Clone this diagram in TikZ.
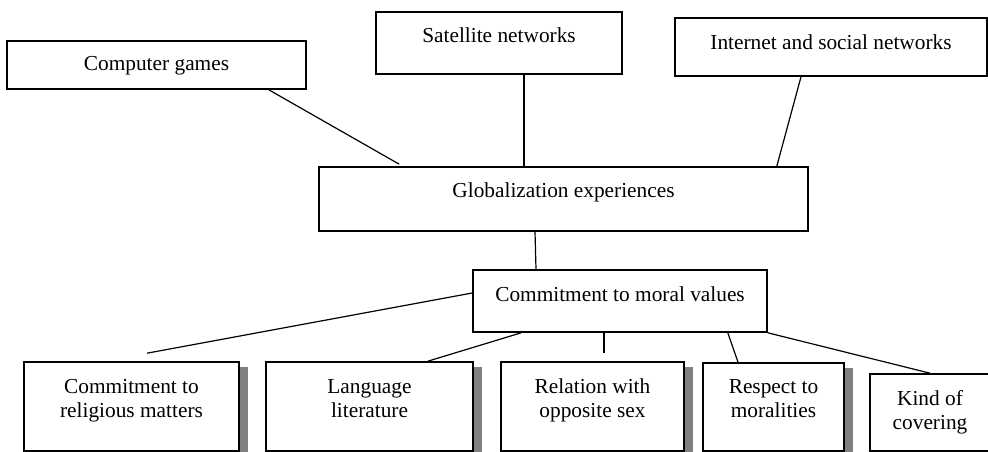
\documentclass[tikz,border=0pt]{standalone}
\usepackage{fontspec}
\setmainfont{Liberation Serif}
\usetikzlibrary{calc,shadows}

\tikzset{every picture/.style={line width=0.75pt}}

\begin{document}
\begin{tikzpicture}[x=0.75pt,y=0.75pt,yscale=-1,xscale=1,
	box/.style={draw, line width=1.2pt, fill=white, inner sep=0pt, align=center,
		font=\fontsize{16}{18}\selectfont, text height=11pt},
	twoline/.style={text height=29pt},
	shadowbox/.style={box, twoline, drop shadow={shadow xshift=6.5pt, shadow yshift=-3.75pt,
		fill={rgb, 255:red, 128; green, 128; blue, 128 }, opacity=1}},
	link/.style={line width=0.9pt}]
	\useasboundingbox (0,0) rectangle (988,452);

	%Shape: Rectangle [top row]
	\node[box, minimum width=224.25pt, minimum height=36pt, text depth=2pt] (games) at (156.5,65) {Computer games};
	\node[box, minimum width=184.5pt, minimum height=46.5pt, text depth=11pt] (sat) at (499,43) {Satellite networks};
	\node[box, minimum width=234pt, minimum height=43.5pt, text depth=6.5pt] (inet) at (831,47) {Internet and social networks};

	%Shape: Rectangle [middle]
	\node[box, minimum width=366.75pt, minimum height=48pt, text depth=13.6pt] (glob) at (563.5,199) {Globalization experiences};
	\node[box, minimum width=220.5pt, minimum height=46.5pt, text depth=11pt] (commit) at (620,301) {Commitment to moral values};

	%Shape: Rectangle [bottom row]
	\node[shadowbox, minimum width=161.25pt, minimum height=66.75pt, text depth=13.2pt] (relig) at (131.5,406.5) {Commitment to\\religious matters};
	\node[shadowbox, minimum width=155.25pt, minimum height=66.75pt, text depth=13.2pt] (lang) at (369.5,406.5) {Language\\literature};
	\node[shadowbox, minimum width=137.25pt, minimum height=66.75pt, text depth=13.2pt] (relat) at (592.5,406.5) {Relation with\\opposite sex};
	\node[shadowbox, minimum width=105.75pt, minimum height=66pt, text depth=13.8pt] (resp) at (773.5,407) {Respect to\\moralities};
	\node[box, twoline, minimum width=90pt, minimum height=57.75pt, text depth=2.8pt] (kind) at (930,412.5) {Kind of\\covering};

	%Straight Lines
	\draw[link] ($(games.south east)+(-38,0)$) -- ($(glob.north west)+(81,-2)$);
	\draw[link] ($(sat.south)+(25,0)$) -- ($(glob.north)+(-39.5,0)$);
	\draw[link] ($(inet.south)+(-30,0)$) -- ($(glob.north east)+(-32,0)$);
	\draw[link] ($(glob.south)+(-28.5,0)$) -- ($(commit.north)+(-84,0)$);
	%Straight Lines
	\draw[link] ($(commit.west)+(0,-8)$) -- ($(relig.north)+(15.5,-8)$);
	\draw[link] ($(commit.south west)+(49,0)$) -- ($(lang.north east)+(-46,0)$);
	\draw[link] ($(commit.south)+(-16,0)$) -- ($(relat.north)+(11.5,-8)$);
	\draw[link] ($(commit.south east)+(-40,0)$) -- ($(resp.north)+(-35.5,0)$);
	\draw[link] (commit.south east) -- (kind.north);

\end{tikzpicture}
\end{document}
